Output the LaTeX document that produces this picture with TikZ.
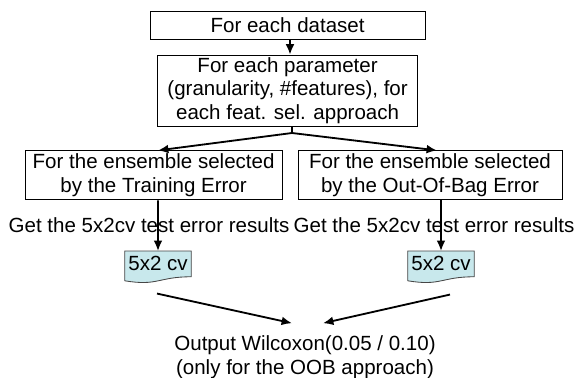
\documentclass[tikz,border=0pt]{standalone}
\usepackage{fontspec}
\setmainfont{Liberation Sans}
\usetikzlibrary{arrows.meta, backgrounds}
\definecolor{cvfill}{RGB}{200,232,236}
\definecolor{cvline}{RGB}{70,70,70}

\begin{document}
\begin{tikzpicture}[
				font=\fontsize{14.6}{17}\selectfont,
				box/.style={draw, line width=0.7pt, align=center, inner sep=0pt},
				plain/.style={inner sep=0pt, align=center},
				cvdoc/.style={anchor=north, inner sep=0pt, minimum width=1.65cm, minimum height=0.63cm},
				cvshape/.style={draw=cvline, fill=cvfill, line width=0.6pt},
				arrow/.style={line width=1.3pt, -{Latex[length=2.6mm, width=2.2mm]}}
				]
				
				\useasboundingbox (0, 0) rectangle (14.4, 9.425);
				
				\node[box, minimum width=6.875cm, minimum height=0.7cm] (data) at (7.19, 8.8) {For each dataset};
				\node[box, minimum width=6.5cm, minimum height=1.775cm] (param) at (7.19, 7.16) {For each parameter\\(granularity, \#features), for\\each feat. sel. approach};
				\coordinate (split) at (7.3, 6.1);
				
				\node[box, minimum width=6.425cm, minimum height=1.225cm] (ensTr) at (3.84, 5.04) {For the ensemble selected\\by the Training Error};
				\node[box, minimum width=6.6cm, minimum height=1.225cm] (ensOob) at (10.75, 5.04) {For the ensemble selected\\by the Out-Of-Bag Error};
				
				\node[plain] (getTr) at (3.725, 3.8) {Get the 5x2cv test error results};
				\node[plain] (getOob) at (10.85, 3.8) {Get the 5x2cv test error results};
				
				\node[cvdoc] (cvTr) at (3.95, 3.15) {5x2 cv};
				\node[cvdoc] (cvOob) at (11.025, 3.15) {5x2 cv};
				
				\node[plain] (out) at (7.625, 0.5) {Output Wilcoxon(0.05 / 0.10)\\(only for the OOB approach)};
				
				\begin{scope}[on background layer]
					\draw[cvshape] (cvTr.north west) -- (cvTr.north east) -- (cvTr.south east) .. controls (cvTr.south) and ([yshift=-0.24cm]cvTr.south) .. ([yshift=-0.1cm]cvTr.south west) -- cycle;
					\draw[cvshape] (cvOob.north west) -- (cvOob.north east) -- (cvOob.south east) .. controls (cvOob.south) and ([yshift=-0.24cm]cvOob.south) .. ([yshift=-0.1cm]cvOob.south west) -- cycle;
				\end{scope}
				
				\draw[arrow] ([xshift=0.06cm]data.south) -- ([xshift=0.06cm]param.north);
				\draw[line width=1.3pt] (param.south -| split) -- (split);
				\draw[arrow] (split) -- ([xshift=0.11cm]ensTr.north);
				\draw[arrow] (split) -- ([xshift=0.175cm]ensOob.north);
				\draw[arrow] ([xshift=0.11cm]ensTr.south) -- (cvTr.north);
				\draw[arrow] ([xshift=0.275cm]ensOob.south) -- (cvOob.north);
				\draw[arrow] ([xshift=-0.025cm, yshift=-0.42cm]cvTr.south) -- ([xshift=-0.325cm, yshift=0.3cm]out.north);
				\draw[arrow] ([xshift=0.225cm, yshift=-0.445cm]cvOob.south) -- ([xshift=0.45cm, yshift=0.3cm]out.north);
				
			\end{tikzpicture}
\end{document}
